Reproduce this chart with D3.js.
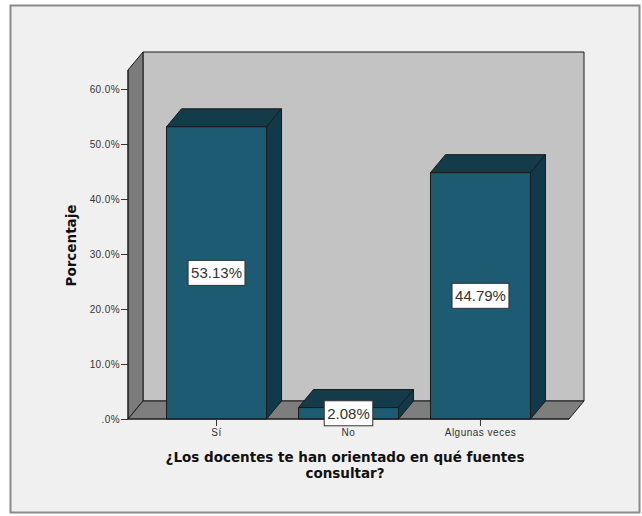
<!DOCTYPE html>
<html>
<head>
<meta charset="utf-8">
<script src="https://cdn.jsdelivr.net/npm/d3@7"></script>
<style>
  html, body { margin: 0; padding: 0; background: #ffffff; }
  svg { display: block; }
</style>
</head>
<body>
<script>
// Survey answers and their percentages
const categories = ["Sí", "No", "Algunas veces"];
const percentages = [53.13, 2.08, 44.79];
const yTicks = [0, 10, 20, 30, 40, 50, 60];
const xTitleLines = ["¿Los docentes te han orientado en qué fuentes", "consultar?"];
const yTitle = "Porcentaje";

(function () {
const W = 642, H = 516;
const svg = d3.select("body").append("svg").attr("width", W).attr("height", H);

// Outer frame
svg.append("rect")
  .attr("x", 10.5).attr("y", 5.5).attr("width", 629).attr("height", 507)
  .attr("fill", "#f0f0f0").attr("stroke", "#8a8a8a").attr("stroke-width", 2);

// Front plane of the 3D box and its depth offset
const pLeft = 128, pRight = 569, pBottom = 419, pTop = 70;
const dx = 15, dy = 18;

const y = d3.scaleLinear().domain([0, 60]).range([pBottom, 89]);
const x = d3.scaleBand().domain(categories).range([pLeft, pRight])
  .paddingInner(0.2424).paddingOuter(0.292);

const edge = "#1a1a1a";
const poly = pts => "M" + pts.map(p => p.join(",")).join("L") + "Z";

// Back wall
svg.append("path")
  .attr("d", poly([[pLeft + dx, pTop - dy], [pRight + dx, pTop - dy], [pRight + dx, pBottom - dy], [pLeft + dx, pBottom - dy]]))
  .attr("fill", "#c3c3c3").attr("stroke", edge).attr("stroke-width", 1);
// Left wall
svg.append("path")
  .attr("d", poly([[pLeft, pTop], [pLeft + dx, pTop - dy], [pLeft + dx, pBottom - dy], [pLeft, pBottom]]))
  .attr("fill", "#7b7b7b").attr("stroke", edge).attr("stroke-width", 1);
// Floor
svg.append("path")
  .attr("d", poly([[pLeft, pBottom], [pLeft + dx, pBottom - dy], [pRight + dx, pBottom - dy], [pRight, pBottom]]))
  .attr("fill", "#7e7e7e").attr("stroke", edge).attr("stroke-width", 1);

const rows = categories.map((c, i) => ({ c, v: percentages[i] }));

// Bars drawn as prisms: top, right side, front
const bars = svg.append("g").selectAll("g").data(rows).join("g");

bars.append("path")
  .attr("d", d => {
    const x0 = x(d.c), x1 = x0 + x.bandwidth(), y0 = y(d.v);
    return poly([[x0, y0], [x0 + dx, y0 - dy], [x1 + dx, y0 - dy], [x1, y0]]);
  })
  .attr("fill", "#143b49").attr("stroke", edge).attr("stroke-width", 1);
bars.append("path")
  .attr("d", d => {
    const x1 = x(d.c) + x.bandwidth(), y0 = y(d.v);
    return poly([[x1, y0], [x1 + dx, y0 - dy], [x1 + dx, pBottom - dy], [x1, pBottom]]);
  })
  .attr("fill", "#12394a").attr("stroke", edge).attr("stroke-width", 1);
bars.append("rect")
  .attr("x", d => x(d.c)).attr("y", d => y(d.v))
  .attr("width", x.bandwidth()).attr("height", d => pBottom - y(d.v))
  .attr("fill", "#1c5b72").attr("stroke", edge).attr("stroke-width", 1);

const tickFont = "Arial, 'Liberation Sans', sans-serif";

// Y axis
const yAxis = svg.append("g").attr("transform", `translate(${pLeft},0)`)
  .call(d3.axisLeft(y).tickValues(yTicks).tickSize(7).tickPadding(1)
    .tickFormat(v => v === 0 ? ".0%" : v.toFixed(1) + "%"));
yAxis.select(".domain").attr("d", `M0,${pTop}V${pBottom}`).attr("stroke", edge);
yAxis.selectAll(".tick line").attr("stroke", "#333");
yAxis.selectAll(".tick text")
  .attr("font-family", tickFont).attr("font-size", 10).attr("letter-spacing", 0.4)
  .attr("fill", "#333");

// X axis
const xAxis = svg.append("g").attr("transform", `translate(0,${pBottom})`)
  .call(d3.axisBottom(x).tickSize(7).tickPadding(3));
xAxis.select(".domain").attr("d", `M${pLeft},0H${pRight}`).attr("stroke", edge);
xAxis.selectAll(".tick line").attr("stroke", "#333");
xAxis.selectAll(".tick text")
  .attr("font-family", tickFont).attr("font-size", 10).attr("letter-spacing", 0.5)
  .attr("fill", "#333");

// Value labels in boxes at the middle of each bar
const labels = svg.append("g").selectAll("g").data(rows).join("g")
  .attr("transform", d => `translate(${x(d.c) + x.bandwidth() / 2},${(y(d.v) + pBottom) / 2})`);
labels.append("text")
  .attr("text-anchor", "middle").attr("dy", "0.36em")
  .attr("font-family", tickFont).attr("font-size", 15)
  .attr("fill", "#333")
  .text(d => d.v.toFixed(2) + "%")
  .each(function () {
    const b = this.getBBox();
    d3.select(this.parentNode).insert("rect", "text")
      .attr("x", b.x - 3).attr("y", -12.5).attr("width", b.width + 6).attr("height", 25)
      .attr("fill", "#ffffff").attr("stroke", "#333").attr("stroke-width", 1);
  });

// Axis titles
const titleFont = "'DejaVu Sans', Verdana, sans-serif";
svg.append("text")
  .attr("transform", `translate(76,${(pTop + pBottom) / 2 + 1}) rotate(-90)`)
  .attr("text-anchor", "middle")
  .attr("font-family", titleFont).attr("font-weight", "bold")
  .attr("font-size", 13.5).attr("fill", "#111")
  .text(yTitle);

svg.append("text")
  .attr("text-anchor", "middle")
  .attr("font-family", titleFont).attr("font-weight", "bold")
  .attr("font-size", 13.5).attr("fill", "#111")
  .selectAll("tspan").data(xTitleLines).join("tspan")
  .attr("x", 345).attr("y", (d, i) => 462 + i * 16)
  .text(d => d);
})();
</script>
</body>
</html>
